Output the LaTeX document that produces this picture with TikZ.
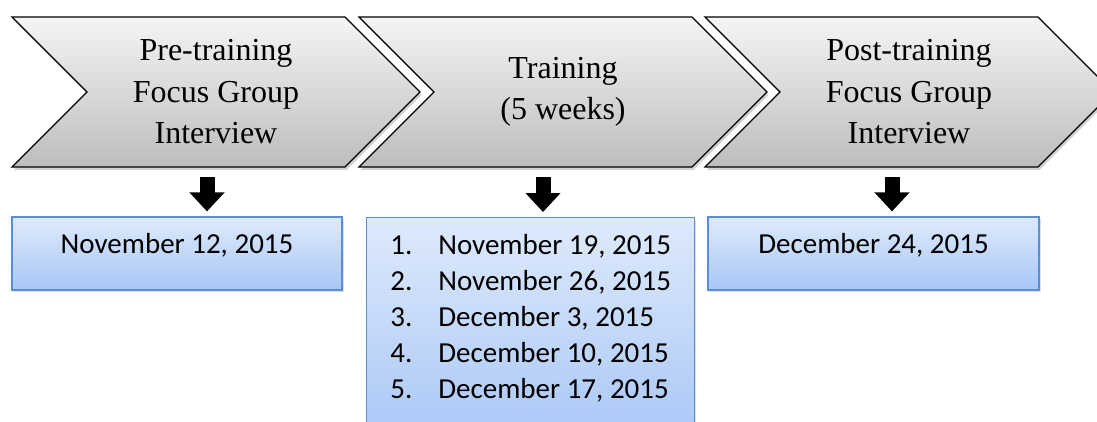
\documentclass[tikz,border=0pt]{standalone}
\usepackage{fontspec}
\setmainfont{Liberation Serif}
\newfontfamily\datefont{Carlito}
\usetikzlibrary{shapes.symbols, shadows, arrows.meta}

\definecolor{boxtop}{HTML}{DEEAFC}
\definecolor{boxbot}{HTML}{A8C6F6}
\definecolor{boxline}{HTML}{5B8FD3}

\tikzset{
	stage/.style = {signal, signal to = east, signal from = west, signal pointer angle = 90,
		draw, line width = 1.2pt, top color = black!4, bottom color = black!26,
		minimum width = 408pt, minimum height = 150pt, align = center,
		font = \fontsize{32}{41.5}\selectfont,
		drop shadow = {shadow xshift = 1.5pt, shadow yshift = -3pt, opacity = 0.35}},
	datebox/.style = {rectangle, draw = boxline, line width = 1.2pt,
		top color = boxtop, bottom color = boxbot,
		font = \datefont\fontsize{29}{36}\selectfont,
		drop shadow = {shadow xshift = 1.5pt, shadow yshift = -2pt, opacity = 0.25}},
	downarrow/.style = {-{Triangle[width = 34pt, length = 19pt]}, line width = 15pt, shorten > = 5pt}
}

\begin{document}
\begin{tikzpicture}[x = 1pt, y = -1pt]%interview and training schedule
	\path[use as bounding box] (0,0) rectangle (1097,421);
	\clip (0,0) rectangle (1097,421);
	% stages
	\node[stage] (pre) at (216,92) {Pre-training\\Focus Group\\Interview};
	\node[stage] (train) at (563,92) {Training\\(5 weeks)};
	\node[stage] (post) at (909,92) {Post-training\\Focus Group\\Interview};
	% dates
	\node[datebox, minimum width = 330pt, minimum height = 73pt, text height = 20pt, text depth = 20pt]
		(predate) at (177,253.5) {November 12, 2015};
	\node[datebox, anchor = north west, align = left, minimum width = 328pt, inner ysep = 17pt]
		(traindate) at (366,217) {%
		\makebox[48pt][l]{1.}November 19, 2015\\
		\makebox[48pt][l]{2.}November 26, 2015\\
		\makebox[48pt][l]{3.}December 3, 2015\\
		\makebox[48pt][l]{4.}December 10, 2015\\
		\makebox[48pt][l]{5.}December 17, 2015\rule[-30pt]{0pt}{30pt}};
	\node[datebox, minimum width = 331pt, minimum height = 73pt, text height = 20pt, text depth = 20pt]
		(postdate) at (873.5,253.5) {December 24, 2015};
	% arrows
	\coordinate (a1) at (207,177);
	\coordinate (a2) at (543,177);
	\coordinate (a3) at (892,177);
	\draw[downarrow] (a1) -- (a1 |- predate.north);
	\draw[downarrow] (a2) -- (a2 |- traindate.north);
	\draw[downarrow] (a3) -- (a3 |- postdate.north);
\end{tikzpicture}
\end{document}
